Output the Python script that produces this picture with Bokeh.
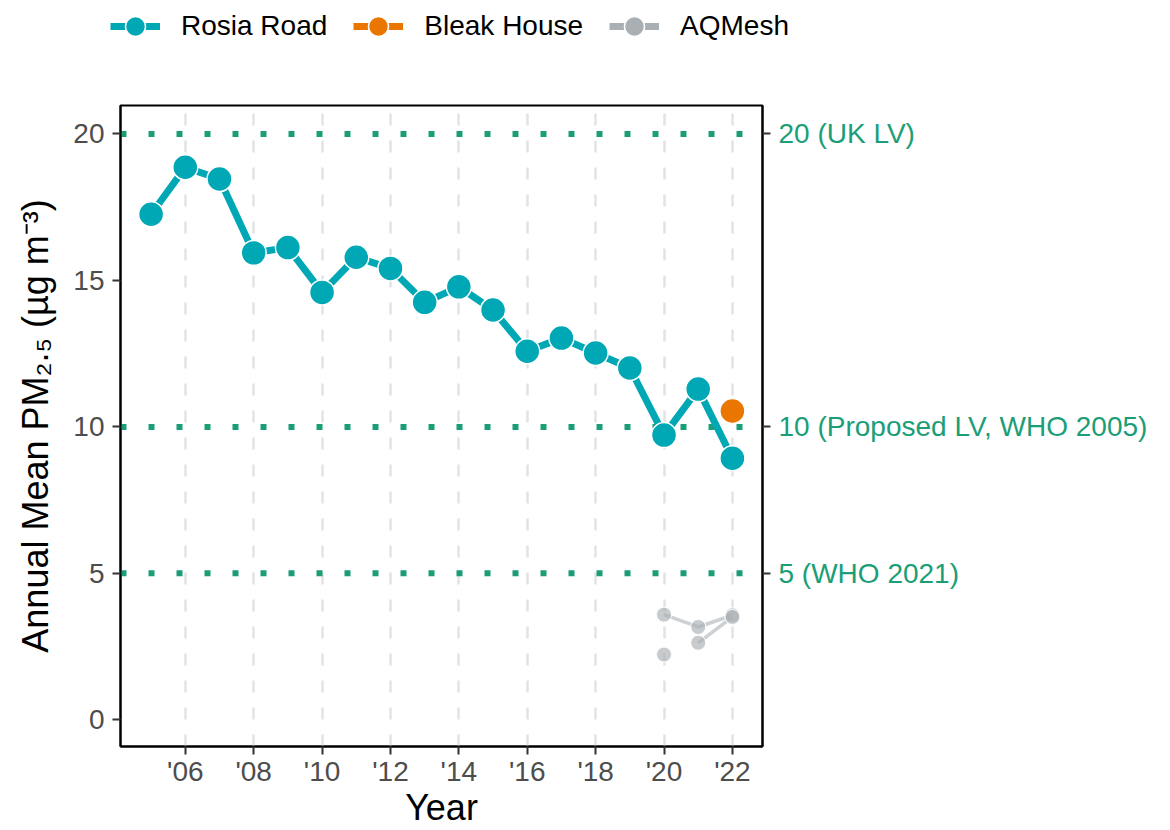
from bokeh.plotting import figure
from bokeh.models import Range1d, LinearAxis, FixedTicker, Legend, LegendItem, Span
from bokeh.embed import file_html
from bokeh.resources import INLINE

# ---- data ----
years = list(range(2005, 2023))
rosia_road = [17.26, 18.86, 18.46, 15.94, 16.12, 14.59, 15.79, 15.41, 14.25, 14.78,
              13.99, 12.58, 13.03, 12.52, 12.01, 9.72, 11.29, 8.93]
bleak_years = [2022]
bleak_house = [10.54]
aq_a_years = [2020, 2021, 2022]
aq_a = [3.59, 3.17, 3.57]
aq_b_years = [2021, 2022]
aq_b = [2.63, 3.51]
aq_c_years = [2020]
aq_c = [2.23]
limit_values = [20, 10, 5]
limit_labels = ["20 (UK LV)", "10 (Proposed LV, WHO 2005)", "5 (WHO 2021)"]
x_ticks = list(range(2006, 2023, 2))
x_tick_labels = ["'06", "'08", "'10", "'12", "'14", "'16", "'18", "'20", "'22"]
y_ticks = [0, 5, 10, 15, 20]

TEAL = "#00A8B5"
ORANGE = "#EA7600"
GREY = "#A9AFB3"
GREEN = "#1B9E77"
FONT = "Liberation Sans"
TICK_SIZE = "28px"
LEG_H = 52

# ---------------- legend strip (separate root, full-width frame) ----------------
lf = figure(width=1170, height=LEG_H, output_backend="svg", toolbar_location=None,
            x_axis_location=None, y_axis_location=None,
            x_range=Range1d(0, 1), y_range=Range1d(0, 1),
            min_border_left=0, min_border_right=0, min_border_top=0, min_border_bottom=0)
lf.outline_line_color = None
lf.grid.grid_line_color = None
lf.background_fill_color = "white"
lf.border_fill_color = "white"

# key renderers carry the real series (they fall outside this strip's ranges)
k_r_line = lf.line(years, rosia_road, line_color=TEAL, line_width=7)
k_r_pts = lf.scatter(years, rosia_road, size=25, fill_color=TEAL, line_color="white", line_width=1.5)
k_b_line = lf.line(bleak_years, bleak_house, line_color=ORANGE, line_width=7)
k_b_pts = lf.scatter(bleak_years, bleak_house, size=25, fill_color=ORANGE, line_color="white", line_width=1.5)
k_a_line = lf.line(aq_a_years, aq_a, line_color=GREY, line_width=7)
k_a_pts = lf.scatter(aq_a_years, aq_a, size=25, fill_color=GREY, line_color="white", line_width=1.5)

legend = Legend(items=[
    LegendItem(label="Rosia Road", renderers=[k_r_line, k_r_pts]),
    LegendItem(label="Bleak House", renderers=[k_b_line, k_b_pts]),
    LegendItem(label="AQMesh", renderers=[k_a_line, k_a_pts]),
], orientation="horizontal", location=(110, 1))
legend.glyph_width = 50
legend.glyph_height = 50
legend.padding = 0
legend.margin = 0
legend.spacing = 26
legend.label_standoff = 21
legend.label_text_font = FONT
legend.label_text_font_size = "28px"
legend.label_text_color = "black"
legend.border_line_color = None
legend.background_fill_alpha = 0
lf.add_layout(legend, "center")

# ---------------- main plot ----------------
p = figure(width=1170, height=830 - LEG_H, output_backend="svg", toolbar_location=None,
           x_range=Range1d(2004.105, 2022.88), y_range=Range1d(-0.91, 20.97),
           min_border_left=120, min_border_right=408, min_border_top=105 - LEG_H,
           min_border_bottom=84)
p.background_fill_color = "white"
p.border_fill_color = "white"
p.outline_line_color = "black"
p.outline_line_width = 2

# grid
p.ygrid.grid_line_color = None
p.xgrid.ticker = FixedTicker(ticks=x_ticks)
p.xgrid.grid_line_color = "#E3E3E3"
p.xgrid.grid_line_width = 2.5
p.xgrid.grid_line_dash = "12 15"

# threshold lines
for v in limit_values:
    p.add_layout(Span(location=v, dimension="width", line_color=GREEN, line_width=6,
                      line_dash="6 22", level="underlay"))

# AQMesh
for xs, ys in [(aq_a_years, aq_a), (aq_b_years, aq_b)]:
    p.line(xs, ys, line_color="#C4C9CC", line_width=3.5, line_alpha=0.85)
for xs, ys in [(aq_a_years, aq_a), (aq_b_years, aq_b), (aq_c_years, aq_c)]:
    p.scatter(xs, ys, size=15, fill_color=GREY, fill_alpha=0.65,
              line_color="white", line_width=1)

# Rosia Road
p.line(years, rosia_road, line_color=TEAL, line_width=7)
p.scatter(years, rosia_road, size=25, fill_color=TEAL, line_color="white", line_width=1.5)

# Bleak House
p.scatter(bleak_years, bleak_house, size=25, fill_color=ORANGE,
          line_color="white", line_width=1.5)

# axes
for ax in [p.xaxis[0], p.yaxis[0]]:
    ax.axis_line_color = "black"
    ax.axis_line_width = 2
    ax.major_tick_line_color = "#333333"
    ax.major_tick_line_width = 2
    ax.major_tick_out = 8
    ax.major_tick_in = 0
    ax.minor_tick_line_color = None
    ax.major_label_text_font = FONT
    ax.major_label_text_font_size = TICK_SIZE
    ax.major_label_text_color = "#4D4D4D"
    ax.axis_label_text_font = FONT
    ax.axis_label_text_font_size = "36px"
    ax.axis_label_text_font_style = "normal"
    ax.axis_label_text_color = "black"

p.xaxis.ticker = FixedTicker(ticks=x_ticks)
p.xaxis.major_label_overrides = {t: l for t, l in zip(x_ticks, x_tick_labels)}
p.xaxis.axis_label = "Year"
p.xaxis.major_label_standoff = 1
p.xaxis.axis_label_standoff = -3

p.yaxis.ticker = FixedTicker(ticks=y_ticks)
p.yaxis.axis_label = "Annual Mean PM\u2082.\u2085 (\u00b5g m\u207b\u00b3)"
p.yaxis.major_label_standoff = 8
p.yaxis.axis_label_standoff = 14

right = LinearAxis(ticker=FixedTicker(ticks=limit_values),
                   major_label_overrides={v: l for v, l in zip(limit_values, limit_labels)})
right.axis_line_color = "black"
right.axis_line_width = 2
right.major_tick_line_color = "#333333"
right.major_tick_line_width = 2
right.major_tick_out = 8
right.major_tick_in = 0
right.minor_tick_line_color = None
right.major_label_text_font = FONT
right.major_label_text_font_size = TICK_SIZE
right.major_label_text_color = GREEN
right.major_label_standoff = 8
p.add_layout(right, "right")

open("out.html", "w").write(file_html([lf, p], INLINE))
